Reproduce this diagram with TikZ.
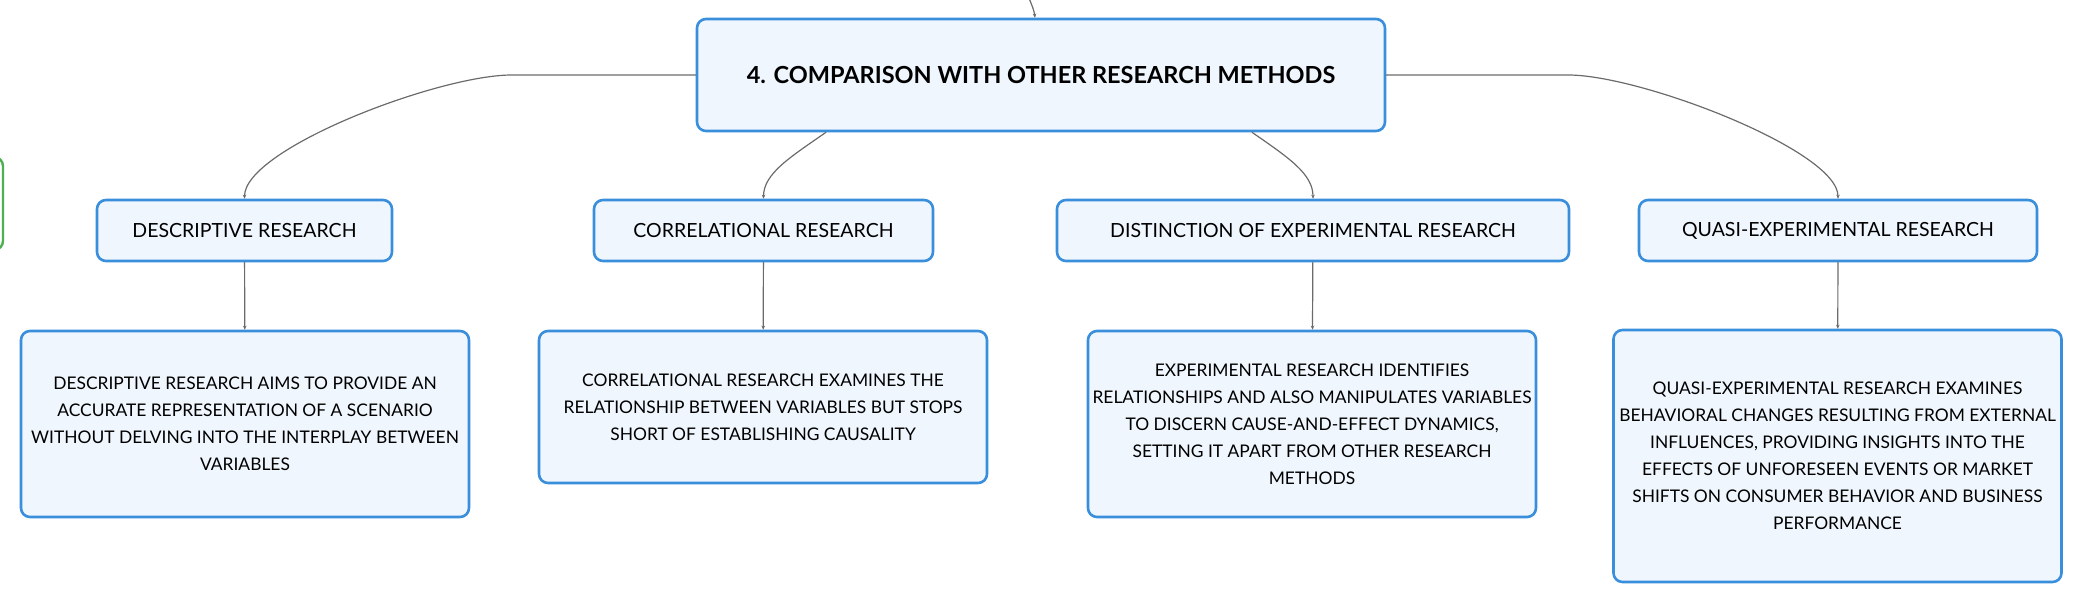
\documentclass[tikz,border=0pt]{standalone}
\usepackage{fontspec}
\setmainfont{Lato}
\usetikzlibrary{arrows.meta}
\definecolor{boxblue}{HTML}{3A8FDD}
\definecolor{boxfill}{HTML}{EFF6FD}
\definecolor{linkgray}{HTML}{6B6B6B}
\definecolor{sidegreen}{HTML}{4CAF50}
\begin{document}
\begin{tikzpicture}[x=1pt, y=-1pt, line cap=round, line join=round,
	box/.style={draw=boxblue, fill=boxfill, line width=2.6pt, rounded corners=9pt, inner sep=0pt, align=center, text=black},
	topic/.style={box, minimum width=688pt, minimum height=112pt, font=\fontsize{23.5}{28}\selectfont\bfseries},
	header/.style={box, minimum width=#1, minimum height=61pt, font=\fontsize{19.5}{23}\selectfont},
	detail/.style={box, minimum width=448pt, minimum height=#1, font=\fontsize{17.4}{27}\selectfont},
	sidebox/.style={draw=sidegreen, fill=white, line width=2.4pt, rounded corners=9pt, minimum width=86pt, minimum height=93pt},
	link/.style={draw=linkgray, line width=1.2pt, -{Stealth[length=4pt, width=3.5pt]}}]
	\useasboundingbox (0, 0) rectangle (2083, 602);
	\clip (0, 0) rectangle (2083, 602);
	% Side node, cut by the border
	\node [sidebox] (side) at (-40, 203.5) {};
	% Topic
	\coordinate (parent) at (1029, -2);
	\node [topic] (topic) at (1041, 75) {4. COMPARISON WITH OTHER RESEARCH METHODS};
	% Headers
	\node [header=295pt] (head-1) at (244.5, 230.5) {DESCRIPTIVE RESEARCH};
	\node [header=339pt] (head-2) at (763.5, 230.5) {CORRELATIONAL RESEARCH};
	\node [header=512pt] (head-3) at (1313, 230.5) {DISTINCTION OF EXPERIMENTAL RESEARCH};
	\node [header=398pt] (head-4) at (1838, 230.5) {QUASI-EXPERIMENTAL RESEARCH};
	% Details
	\node [detail=186pt] (text-1) at (245, 424) {DESCRIPTIVE RESEARCH AIMS TO PROVIDE AN\\ACCURATE REPRESENTATION OF A SCENARIO\\WITHOUT DELVING INTO THE INTERPLAY BETWEEN\\VARIABLES};
	\node [detail=152pt] (text-2) at (763, 407) {CORRELATIONAL RESEARCH EXAMINES THE\\RELATIONSHIP BETWEEN VARIABLES BUT STOPS\\SHORT OF ESTABLISHING CAUSALITY};
	\node [detail=186pt] (text-3) at (1312, 424) {EXPERIMENTAL RESEARCH IDENTIFIES\\RELATIONSHIPS AND ALSO MANIPULATES VARIABLES\\TO DISCERN CAUSE-AND-EFFECT DYNAMICS,\\SETTING IT APART FROM OTHER RESEARCH\\METHODS};
	\node [detail=252pt] (text-4) at (1837.5, 456) {QUASI-EXPERIMENTAL RESEARCH EXAMINES\\BEHAVIORAL CHANGES RESULTING FROM EXTERNAL\\INFLUENCES, PROVIDING INSIGHTS INTO THE\\EFFECTS OF UNFORESEEN EVENTS OR MARKET\\SHIFTS ON CONSUMER BEHAVIOR AND BUSINESS\\PERFORMANCE};
	% Topic arrows
	\draw [link] (parent) .. controls +(3, 8) and +(-1, -8) .. ([xshift=-6pt]topic.north);
	\draw [link] (topic.west) -- ++(-184, 0) .. controls +(-73, 0) and +(0, -50) .. (head-1.north);
	\draw [link] ([xshift=-215pt]topic.south) .. controls +(-36, 25) and +(0, -25) .. (head-2.north);
	\draw [link] ([xshift=211pt]topic.south) .. controls +(36, 25) and +(0, -25) .. (head-3.north);
	\draw [link] (topic.east) -- ++(182, 0) .. controls +(73, 0) and +(0, -48) .. (head-4.north);
	% Header arrows
	\foreach \a in {1, ..., 4}
		\draw [link] (head-\a) -- (text-\a);
\end{tikzpicture}
\end{document}
